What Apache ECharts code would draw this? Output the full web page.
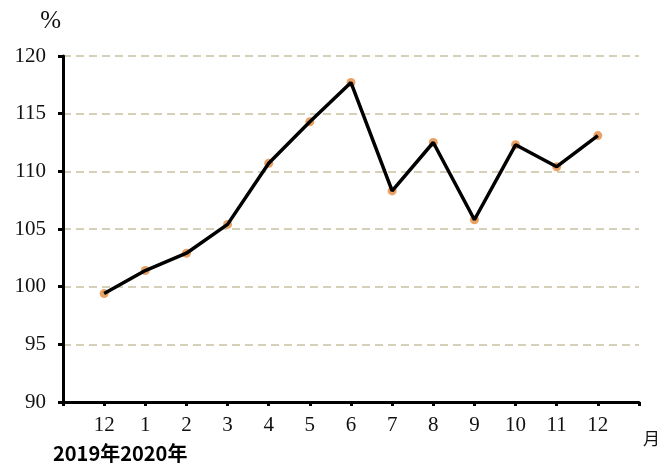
<!DOCTYPE html>
<html>
<head>
<meta charset="utf-8">
<script src="https://cdn.jsdelivr.net/npm/echarts@6/dist/echarts.min.js"></script>
<style>html,body{margin:0;padding:0;background:#fff}#c{width:666px;height:467px}</style>
</head>
<body>
<div id="c"></div>
<script>
var categories = ['', '12', '1', '2', '3', '4', '5', '6', '7', '8', '9', '10', '11', '12', ''];
var values = [null, 99.4, 101.4, 102.9, 105.4, 110.7, 114.3, 117.7, 108.3, 112.5, 105.8, 112.3, 110.4, 113.1, null];
var yTicks = [90, 95, 100, 105, 110, 115, 120];
var yearLabel = '2019年2020年';

var chart = echarts.init(document.getElementById('c'), null, {renderer: 'canvas'});
chart.setOption({
  animation: false,
  backgroundColor: '#fff',
  grid: {left: 63, right: 27, top: 56, bottom: 65, containLabel: false},
  xAxis: {
    type: 'category',
    data: categories,
    boundaryGap: false,
    name: '月',
    nameLocation: 'end',
    nameGap: 4,
    nameTextStyle: {fontFamily: 'Noto Sans CJK SC', fontSize: 17, color: '#111', verticalAlign: 'top', padding: [28, 0, 0, 0]},
    axisLine: {lineStyle: {color: '#000', width: 3}},
    axisTick: {show: true, length: 4, inside: false, lineStyle: {color: '#000', width: 3}, alignWithLabel: true},
    axisLabel: {fontFamily: 'Liberation Serif', fontSize: 21, color: '#111', margin: 13, interval: 0},
    splitLine: {show: false}
  },
  yAxis: {
    type: 'value',
    min: yTicks[0],
    max: yTicks[yTicks.length - 1],
    interval: 5,
    name: '%',
    nameLocation: 'end',
    nameGap: 22,
    nameTextStyle: {fontFamily: 'Liberation Serif', fontSize: 25, color: '#111', align: 'right', padding: [0, 2, 0, 0]},
    axisLine: {show: true, lineStyle: {color: '#000', width: 3}},
    axisTick: {show: true, length: 5, lineStyle: {color: '#000', width: 3}},
    axisLabel: {fontFamily: 'Liberation Serif', fontSize: 21, color: '#111', margin: 17},
    splitLine: {show: true, lineStyle: {color: '#c8c2a2', width: 1.5, type: [8, 5]}}
  },
  graphic: [{
    type: 'text',
    left: 53,
    top: 443,
    style: {text: yearLabel, fontFamily: 'Noto Sans CJK SC', fontWeight: 'bold', fontSize: 20, fill: '#000'}
  }],
  series: [
    {
      type: 'scatter',
      data: values,
      symbol: 'circle',
      symbolSize: 9,
      itemStyle: {color: '#e38b3f'},
      z: 1
    },
    {
      type: 'line',
      data: values,
      showSymbol: false,
      symbol: 'none',
      lineStyle: {color: '#000', width: 3.5},
      z: 2
    }
  ]
});
</script>
</body>
</html>
